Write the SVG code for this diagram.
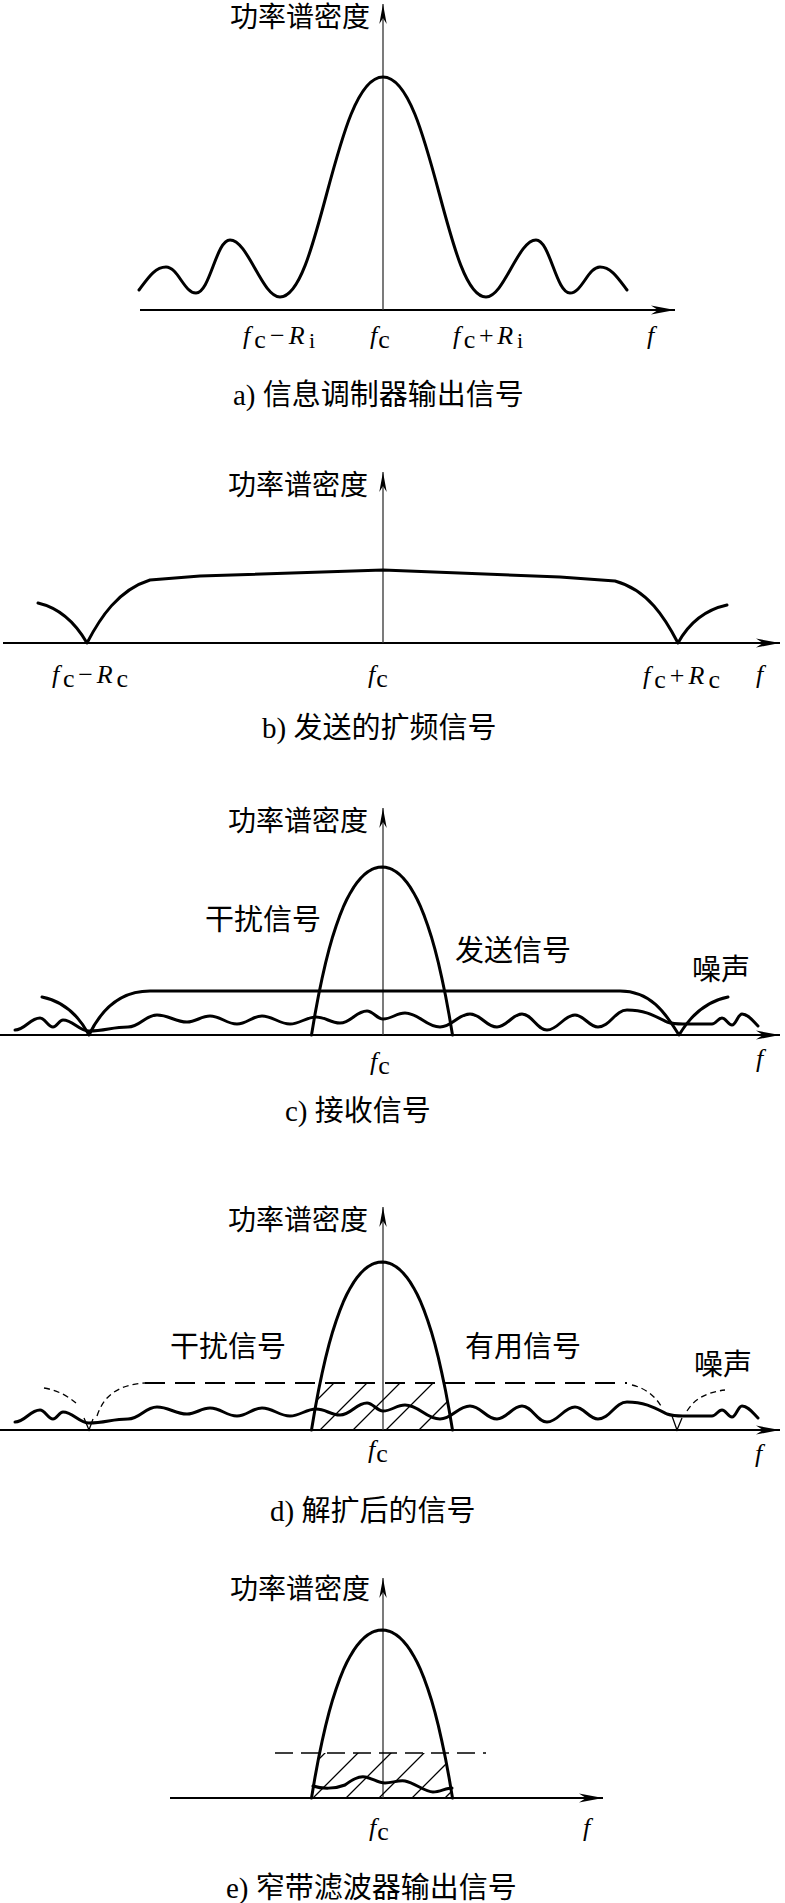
<svg xmlns="http://www.w3.org/2000/svg" xmlns:xlink="http://www.w3.org/1999/xlink" width="785" height="1903" viewBox="0 0 785 1903">
<style>
.axis{stroke:#000;stroke-width:2;fill:none}
.vaxis{stroke:#333;stroke-width:1.3;fill:none}
.curve{stroke:#000;stroke-width:3;fill:none;stroke-linejoin:round;stroke-linecap:round}
.thin{stroke:#000;stroke-width:1.3;fill:none}
.dthin{stroke:#000;stroke-width:1.3;fill:none;stroke-dasharray:6 4}
.dthick{stroke:#000;stroke-width:2;fill:none;stroke-dasharray:20 10}
.dmid{stroke:#000;stroke-width:1.4;fill:none;stroke-dasharray:18 8}
.cjk{font-family:"Liberation Serif","Noto Sans CJK SC",sans-serif;fill:#000}
.title{font-size:28px}
.cap{font-size:29px}
.lab{font-size:29px}
.lbl{font-family:"Liberation Serif",serif;font-size:26px;fill:#000}
.it{font-style:italic}
</style>
<defs>
<marker id="ah" markerUnits="userSpaceOnUse" markerWidth="26" markerHeight="12" refX="24" refY="6" orient="auto">
<path d="M0,1.5 L24,6 L0,10.5 L7,6 Z" fill="#000"/>
</marker>
<marker id="ahv" markerUnits="userSpaceOnUse" markerWidth="22" markerHeight="10" refX="20" refY="5" orient="auto">
<path d="M0,1.3 L20,5 L0,8.7 L6,5 Z" fill="#000"/>
</marker>
<path id="lobe" d="M-70.5,0 L-67,-20.8 L-63.45,-39.7 L-59.9,-56.7 L-56.4,-72.1 L-52.9,-85.9 L-49.35,-98.3 L-45.8,-109.3 L-42.3,-119.1 L-38.8,-127.8 L-35.25,-135.5 L-31.7,-142.1 L-28.2,-147.9 L-24.7,-152.8 L-21.15,-157 L-17.6,-160.5 L-14.1,-163.2 L-10.6,-165.3 L-7.05,-166.8 L-3.5,-167.7 L0,-168 L3.5,-167.7 L7.05,-166.8 L10.6,-165.3 L14.1,-163.2 L17.6,-160.5 L21.15,-157 L24.7,-152.8 L28.2,-147.9 L31.7,-142.1 L35.25,-135.5 L38.8,-127.8 L42.3,-119.1 L45.8,-109.3 L49.35,-98.3 L52.9,-85.9 L56.4,-72.1 L59.9,-56.7 L63.45,-39.7 L67,-20.8 L70.5,0"/>
<path id="noise" d="M15,1030 C25,1030 30,1018 40,1018 C45,1018 48,1027 53,1027 C57,1027 59,1020 63,1020 C73,1020 79,1031 89,1031 C105,1031 112,1027 128,1027 C140,1027 145,1015 157,1015 C169,1015 175,1022 187,1022 C196,1022 201,1016 210,1016 C221,1016 226,1024 237,1024 C247,1024 252,1016 262,1016 C273,1016 279,1024 290,1024 C300,1024 306,1017 316,1017 C326,1017 330,1023 340,1023 C351,1023 356,1011 367,1011 C373,1011 377,1019 383,1019 C392,1019 396,1013 405,1013 C419,1013 426,1027 440,1027 C452,1027 458,1014 470,1014 C481,1014 486,1027 497,1027 C507,1027 512,1014 522,1014 C532,1014 537,1030 547,1030 C558,1030 564,1015 575,1015 C584,1015 589,1027 598,1027 C610,1027 615,1010 627,1010 C645,1010 655,1016 667,1022 C673,1024 678,1024 683,1024 L712,1024 C716,1024 718,1018 722,1018 C726,1018 728,1025 732,1025 C736,1025 738,1014 742,1014 C748,1014 752,1020 758,1026"/>
<clipPath id="lobeD"><use xlink:href="#lobe" href="#lobe" transform="translate(382,1430)"/></clipPath>
<clipPath id="rectD"><rect x="250" y="1383" width="270" height="47"/></clipPath>
<clipPath id="lobeE"><use xlink:href="#lobe" href="#lobe" transform="translate(382,1798)"/></clipPath>
<clipPath id="rectE"><rect x="250" y="1753" width="270" height="45"/></clipPath>
</defs>

<!-- Panel a -->
<g id="panel-a">
<line class="axis" x1="140" y1="310" x2="675" y2="310" marker-end="url(#ah)"/>
<line class="vaxis" x1="383" y1="310" x2="383" y2="4" marker-end="url(#ahv)"/>
<text class="cjk title" x="370" y="27" text-anchor="end">功率谱密度</text>
<path class="curve" d="M139,290 C148,278 155,267 166,267 C178,267 184,293 196,293 C210,293 216,240 230,240 C248,240 262,297 280,297 C320,297 335,77 383,77 C431,77 446,297 486,297 C504,297 518,240 536,240 C550,240 556,293 570,293 C582,293 588,267 600,267 C611,267 618,278 627,290"/>
<text class="lbl" x="243" y="344" textLength="72" lengthAdjust="spacing"><tspan class="it">f</tspan><tspan dy="4">c</tspan><tspan dy="-4">−</tspan><tspan class="it">R</tspan><tspan dy="4" font-size="22">i</tspan></text>
<text class="lbl" x="370" y="344" letter-spacing="1"><tspan class="it">f</tspan><tspan dy="4">c</tspan></text>
<text class="lbl" x="453" y="344" textLength="70" lengthAdjust="spacing"><tspan class="it">f</tspan><tspan dy="4">c</tspan><tspan dy="-4">+</tspan><tspan class="it">R</tspan><tspan dy="4" font-size="22">i</tspan></text>
<text class="lbl it" x="647" y="344" font-size="28">f</text>
<text class="cjk cap" x="233" y="405">a) 信息调制器输出信号</text>
</g>

<!-- Panel b -->
<g id="panel-b">
<line class="axis" x1="3" y1="643" x2="780" y2="643" marker-end="url(#ah)"/>
<line class="vaxis" x1="383" y1="643" x2="383" y2="472" marker-end="url(#ahv)"/>
<text class="cjk title" x="368" y="495" text-anchor="end">功率谱密度</text>
<path class="curve" d="M38,603 Q68,610 87,643 C100,618 118,590 150,580 L200,576 L383,570 L560,577 L615,581 C648,590 665,618 678,643 Q695,612 727,605"/>
<text class="lbl" x="52" y="683" textLength="76" lengthAdjust="spacing"><tspan class="it">f</tspan><tspan dy="4">c</tspan><tspan dy="-4">−</tspan><tspan class="it">R</tspan><tspan dy="4">c</tspan></text>
<text class="lbl" x="368" y="683" letter-spacing="1"><tspan class="it">f</tspan><tspan dy="4">c</tspan></text>
<text class="lbl" x="643" y="684" textLength="77" lengthAdjust="spacing"><tspan class="it">f</tspan><tspan dy="4">c</tspan><tspan dy="-4">+</tspan><tspan class="it">R</tspan><tspan dy="4">c</tspan></text>
<text class="lbl it" x="756" y="683" font-size="28">f</text>
<text class="cjk cap" x="262" y="738">b) 发送的扩频信号</text>
</g>

<!-- Panel c -->
<g id="panel-c">
<line class="axis" x1="0" y1="1035" x2="780" y2="1035" marker-end="url(#ah)"/>
<line class="vaxis" x1="383" y1="1035" x2="383" y2="808" marker-end="url(#ahv)"/>
<text class="cjk title" x="368" y="831" text-anchor="end">功率谱密度</text>
<use class="curve" xlink:href="#lobe" href="#lobe" transform="translate(382,1035)"/>
<path class="curve" d="M42,997 Q72,1003 89,1035 C100,1012 118,991 150,991 L620,991 C650,991 665,1012 679,1035 Q698,1003 728,997"/>
<use class="curve" xlink:href="#noise" href="#noise"/>
<text class="cjk lab" x="205" y="930">干扰信号</text>
<text class="cjk lab" x="455" y="961">发送信号</text>
<text class="cjk lab" x="692" y="980">噪声</text>
<text class="lbl" x="370" y="1070" letter-spacing="1"><tspan class="it">f</tspan><tspan dy="4">c</tspan></text>
<text class="lbl it" x="756" y="1067" font-size="28">f</text>
<text class="cjk cap" x="285" y="1121">c) 接收信号</text>
</g>

<!-- Panel d -->
<g id="panel-d">
<line class="axis" x1="0" y1="1430" x2="780" y2="1430" marker-end="url(#ah)"/>
<line class="vaxis" x1="383" y1="1430" x2="383" y2="1207" marker-end="url(#ahv)"/>
<text class="cjk title" x="368" y="1230" text-anchor="end">功率谱密度</text>
<g clip-path="url(#rectD)"><g clip-path="url(#lobeD)">
<path class="thin" d="M254,1430 L334,1350 M287,1430 L367,1350 M320,1430 L400,1350 M353,1430 L433,1350 M386,1430 L466,1350 M419,1430 L499,1350 M452,1430 L532,1350"/>
</g></g>
<use class="curve" xlink:href="#lobe" href="#lobe" transform="translate(382,1430)"/>
<path class="dthick" d="M145,1383 L627,1383"/>
<path class="dthin" d="M44,1388 Q62,1391 76,1403"/>
<path class="dthin" d="M97,1416 C103,1398 115,1385 145,1383"/>
<path class="dthin" d="M632,1385 C645,1388 655,1396 661,1406"/>
<path class="dthin" d="M687,1411 C695,1398 708,1392 725,1390"/>
<path class="thin" d="M84,1418 L89,1430 L93,1419 M672,1416 L677,1430 L682,1418"/>
<use class="curve" xlink:href="#noise" href="#noise" transform="translate(0,392)"/>
<text class="cjk lab" x="170" y="1357">干扰信号</text>
<text class="cjk lab" x="465" y="1357">有用信号</text>
<text class="cjk lab" x="694" y="1375">噪声</text>
<text class="lbl" x="368" y="1458" letter-spacing="1"><tspan class="it">f</tspan><tspan dy="4">c</tspan></text>
<text class="lbl it" x="755" y="1462" font-size="28">f</text>
<text class="cjk cap" x="270" y="1521">d) 解扩后的信号</text>
</g>

<!-- Panel e -->
<g id="panel-e">
<line class="axis" x1="170" y1="1798" x2="603" y2="1798" marker-end="url(#ah)"/>
<line class="vaxis" x1="383" y1="1798" x2="383" y2="1578" marker-end="url(#ahv)"/>
<text class="cjk title" x="370" y="1599" text-anchor="end">功率谱密度</text>
<g clip-path="url(#rectE)"><g clip-path="url(#lobeE)">
<path class="thin" d="M280,1798 L340,1738 M313,1798 L373,1738 M346,1798 L406,1738 M379,1798 L439,1738 M412,1798 L472,1738 M445,1798 L505,1738"/>
</g></g>
<use class="curve" xlink:href="#lobe" href="#lobe" transform="translate(382,1798)"/>
<path class="dmid" d="M275,1753 L486,1753"/>
<path class="curve" d="M313,1786 C322,1789 335,1789 345,1785 C352,1780 358,1776 365,1777 C372,1778 378,1783 385,1783 C392,1783 398,1780 405,1781 C415,1783 425,1792 433,1792 C440,1792 446,1788 452,1788"/>
<text class="lbl" x="369" y="1836" letter-spacing="1"><tspan class="it">f</tspan><tspan dy="4">c</tspan></text>
<text class="lbl it" x="583" y="1836" font-size="28">f</text>
<text class="cjk cap" x="226" y="1898">e) 窄带滤波器输出信号</text>
</g>
</svg>
